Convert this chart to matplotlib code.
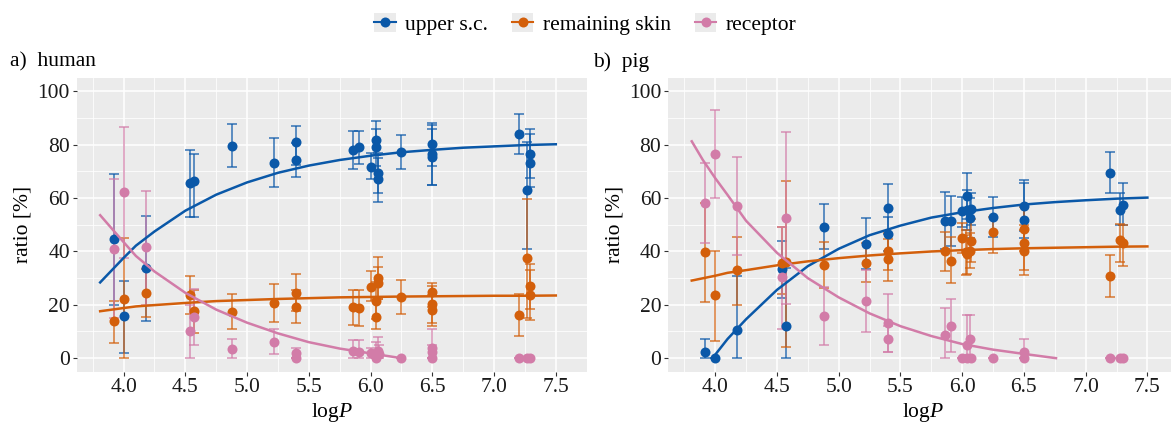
"""
plot.py - ratio vs logP for human and pig skin (upper s.c. / remaining skin / receptor)
"""

import numpy as np
import matplotlib
matplotlib.use("Agg")
import matplotlib.pyplot as plt
from matplotlib.lines import Line2D
from matplotlib.patches import Rectangle
from matplotlib import rcParams

rcParams['font.family'] = ['Liberation Serif', 'DejaVu Serif']
rcParams['mathtext.fontset'] = 'custom'
rcParams['mathtext.rm'] = 'Liberation Serif'
rcParams['mathtext.it'] = 'Liberation Serif:italic'

FS = 15.5
MS = 7.2
COLORS = {"upper": "#0A58A8", "remain": "#D35F0B", "recep": "#D27CA8"}
LABELS = ["upper s.c.", "remaining skin", "receptor"]

# ---- a) human: measured points (x, mean, lower, upper) ----
h_upper_x = [3.92, 4.00, 4.18, 4.54, 4.57, 4.88, 5.22, 5.40, 5.40, 5.86, 5.91, 6.00,
             6.04, 6.04, 6.06, 6.06, 6.25, 6.50, 6.50, 6.50, 7.20, 7.27, 7.29, 7.29]
h_upper_y = [44.5, 15.7, 33.8, 65.5, 66.3, 79.6, 73.3, 80.9, 74.3, 78.1, 79.0, 71.8,
             81.9, 79.0, 69.6, 67.1, 77.3, 80.2, 76.5, 75.5, 84.2, 63.0, 76.7, 73.3]
h_upper_lo = [20.0, 2.0, 14.0, 53.0, 53.0, 71.5, 64.0, 72.5, 68.0, 71.1, 72.7, 67.0,
              76.0, 72.0, 62.0, 58.6, 71.0, 72.0, 65.0, 64.8, 76.5, 40.8, 67.7, 64.0]
h_upper_hi = [69.0, 28.8, 53.4, 78.0, 76.4, 87.9, 82.7, 86.9, 80.5, 85.2, 85.2, 76.8,
              89.0, 86.0, 77.0, 75.0, 83.7, 88.0, 87.5, 86.0, 91.7, 81.0, 85.9, 84.0]

h_remain_x = [3.92, 4.00, 4.18, 4.54, 4.57, 4.88, 5.22, 5.40, 5.40, 5.86, 5.91, 6.00,
              6.04, 6.04, 6.06, 6.06, 6.25, 6.50, 6.50, 6.50, 7.20, 7.27, 7.29, 7.29]
h_remain_y = [14.0, 22.0, 24.5, 23.8, 17.5, 17.4, 20.8, 24.3, 19.3, 19.1, 18.9, 26.7,
              21.4, 15.5, 29.9, 28.3, 23.0, 24.9, 20.4, 18.0, 16.0, 37.4, 27.0, 23.7]
h_remain_lo = [5.8, 0.0, 15.5, 16.5, 9.3, 10.8, 13.5, 17.5, 13.3, 12.6, 12.0, 21.4,
               14.5, 10.8, 22.0, 22.0, 16.4, 19.0, 12.0, 13.0, 8.3, 15.0, 18.3, 14.3]
h_remain_hi = [21.5, 45.2, 33.5, 30.9, 25.7, 24.0, 27.8, 31.4, 25.5, 25.5, 25.5, 32.7,
               28.5, 22.0, 38.0, 34.0, 29.3, 28.3, 27.0, 23.5, 23.9, 59.6, 35.2, 33.0]

h_recep_x = [3.92, 4.00, 4.18, 4.54, 4.57, 4.88, 5.22, 5.40, 5.40, 5.86, 5.91, 6.00,
             6.04, 6.04, 6.06, 6.07, 6.25, 6.50, 6.50, 6.50, 7.20, 7.27, 7.29]
h_recep_y = [41.0, 62.2, 41.5, 10.0, 15.4, 3.3, 6.1, 1.8, 0.0, 2.6, 2.3, 1.8,
             1.0, 0.0, 2.6, 1.5, 0.0, 3.9, 2.3, 0.0, 0.0, 0.0, 0.0]
h_recep_lo = [15.0, 37.7, 20.0, 0.0, 4.9, 0.0, 1.4, 0.0, 0.0, 0.0, 0.0, 0.0,
              0.0, 0.0, 0.0, 0.0, 0.0, 0.0, 0.0, 0.0, 0.0, 0.0, 0.0]
h_recep_hi = [67.0, 86.7, 62.6, 20.0, 25.8, 7.3, 10.8, 4.0, 0.0, 7.0, 7.0, 4.0,
              6.0, 0.0, 8.0, 5.0, 0.0, 10.8, 5.0, 0.0, 0.0, 0.0, 0.0]

# ---- b) pig ----
p_upper_x = [3.92, 4.00, 4.18, 4.54, 4.57, 4.88, 5.22, 5.40, 5.40, 5.86, 5.91, 6.00,
             6.04, 6.04, 6.06, 6.07, 6.25, 6.50, 6.50, 7.20, 7.28, 7.30]
p_upper_y = [2.2, 0.0, 10.4, 33.5, 12.2, 49.3, 42.8, 56.2, 46.6, 51.6, 51.6, 55.1,
             60.7, 55.6, 52.4, 56.0, 52.8, 57.2, 51.8, 69.4, 55.7, 57.4]
p_upper_lo = [0.0, 0.0, 0.0, 22.5, 0.0, 41.0, 33.5, 46.6, 40.0, 41.0, 42.2, 49.0,
              52.0, 48.0, 45.0, 50.0, 45.6, 47.8, 45.0, 61.9, 50.0, 50.0]
p_upper_hi = [7.3, 0.0, 30.7, 44.1, 33.7, 57.8, 52.4, 65.3, 53.0, 62.4, 60.9, 60.6,
              69.3, 63.0, 60.0, 61.9, 60.6, 66.9, 65.5, 77.2, 62.0, 65.5]

p_remain_x = [3.92, 4.00, 4.18, 4.54, 4.57, 4.88, 5.22, 5.40, 5.40, 5.86, 5.91, 6.00,
              6.03, 6.04, 6.06, 6.07, 6.25, 6.50, 6.50, 6.50, 7.20, 7.28, 7.30]
p_remain_y = [39.7, 23.5, 33.1, 35.8, 36.0, 35.0, 35.7, 40.3, 37.0, 40.1, 36.6, 45.1,
              39.7, 39.1, 40.3, 44.1, 47.2, 48.5, 43.2, 40.3, 30.7, 44.4, 43.1]
p_remain_lo = [21.2, 6.6, 20.1, 24.0, 4.1, 26.2, 28.5, 33.0, 29.0, 32.8, 28.2, 39.5,
               31.0, 31.5, 33.8, 36.0, 39.5, 40.0, 31.3, 33.0, 23.1, 36.0, 34.7]
p_remain_hi = [58.2, 40.3, 45.6, 49.3, 66.3, 43.4, 43.0, 47.0, 44.7, 47.2, 45.3, 50.7,
               48.0, 46.0, 47.0, 52.0, 52.8, 56.6, 50.0, 48.0, 38.5, 50.3, 50.0]

p_recep_x = [3.92, 4.00, 4.18, 4.54, 4.57, 4.88, 5.22, 5.40, 5.40, 5.86, 5.91, 6.00,
             6.04, 6.04, 6.06, 6.07, 6.25, 6.50, 6.50, 7.20, 7.28, 7.30]
p_recep_y = [58.2, 76.5, 57.0, 30.3, 52.6, 15.7, 21.6, 13.2, 7.2, 8.5, 12.2, 0.0,
             0.0, 5.1, 7.2, 0.0, 0.0, 2.2, 0.0, 0.0, 0.0, 0.0]
p_recep_lo = [43.2, 59.9, 38.7, 11.0, 20.3, 5.1, 9.7, 2.2, 2.2, 0.0, 2.2, 0.0,
              0.0, 0.0, 0.0, 0.0, 0.0, 0.0, 0.0, 0.0, 0.0, 0.0]
p_recep_hi = [73.2, 93.1, 75.5, 49.0, 84.9, 26.6, 33.0, 24.1, 12.0, 18.9, 22.2, 0.0,
              0.0, 16.0, 16.0, 0.0, 0.0, 7.2, 0.0, 0.0, 0.0, 0.0]

# ---- fitted curves ----
fit_x = [3.81, 4.0, 4.1, 4.25, 4.5, 4.75, 5.0, 5.25, 5.5, 5.75, 6.0, 6.25, 6.5, 6.75, 7.0, 7.25, 7.5]
h_fit_upper = [28.4, 37.6, 42.2, 47.5, 55.3, 61.3, 65.9, 69.5, 72.2, 74.3, 75.9, 77.2, 78.1, 78.9, 79.4, 79.9, 80.2]
h_fit_remain = [17.6, 18.8, 19.4, 19.9, 20.7, 21.4, 21.8, 22.2, 22.5, 22.8, 22.95, 23.1, 23.2, 23.3, 23.4, 23.4, 23.5]
h_fit_recep_x = [3.81, 4.0, 4.1, 4.25, 4.5, 4.75, 5.0, 5.25, 5.5, 5.75, 6.0, 6.25]
h_fit_recep = [53.6, 43.5, 38.3, 32.5, 24.5, 18.2, 13.3, 9.3, 6.0, 3.6, 1.8, 0.0]

p_fit_upper_x = [3.98, 4.0, 4.1, 4.25, 4.5, 4.75, 5.0, 5.25, 5.5, 5.75, 6.0, 6.25, 6.5, 6.75, 7.0, 7.25, 7.5]
p_fit_upper = [0.0, 1.3, 7.2, 14.6, 25.6, 34.5, 41.0, 46.1, 49.7, 52.7, 54.7, 56.3, 57.6, 58.5, 59.2, 59.8, 60.2]
p_fit_remain = [29.1, 30.9, 32.0, 33.0, 34.8, 36.3, 37.5, 38.5, 39.3, 40.0, 40.5, 40.9, 41.2, 41.4, 41.6, 41.8, 41.9]
p_fit_recep_x = [3.81, 3.9, 4.0, 4.1, 4.25, 4.5, 4.75, 5.0, 5.25, 5.5, 5.75, 6.0, 6.25, 6.5, 6.76]
p_fit_recep = [81.3, 74.3, 67.5, 61.2, 51.5, 39.5, 30.0, 22.8, 16.8, 12.0, 8.3, 5.3, 3.2, 1.6, 0.0]

x_ticks = [4.0, 4.5, 5.0, 5.5, 6.0, 6.5, 7.0, 7.5]
y_ticks = [0, 20, 40, 60, 80, 100]


def draw_points(ax, x, y, lo, hi, color):
    """error bars + points for one series"""
    x = np.array(x)
    y = np.array(y)
    lo = np.array(lo)
    hi = np.array(hi)
    ax.errorbar(x, y, yerr=[y - lo, hi - y], fmt='none', ecolor=color,
                elinewidth=1.2, capsize=3.5, capthick=1.2, alpha=0.75, zorder=2)
    ax.plot(x, y, 'o', color=color, markersize=MS, markeredgewidth=0, zorder=3)


def style_axes(ax):
    ax.set_facecolor('#EBEBEB')
    for s in ax.spines.values():
        s.set_visible(False)
    ax.set_xlim(3.62, 7.69)
    ax.set_ylim(-5, 105)
    ax.set_xticks(x_ticks)
    ax.set_xticklabels([f"{v:.1f}" for v in x_ticks])
    ax.set_yticks(y_ticks)
    ax.set_xticks(list(np.array(x_ticks) - 0.25) + [7.75], minor=True)
    ax.set_yticks([10, 30, 50, 70, 90], minor=True)
    ax.grid(which='major', color='white', linewidth=1.1, zorder=0)
    ax.grid(which='minor', color='white', linewidth=0.55, zorder=0)
    ax.set_axisbelow(True)
    ax.tick_params(which='major', length=3, width=0.8, color='#333333',
                   labelsize=FS, labelcolor='#1a1a1a', pad=2)
    ax.tick_params(which='minor', length=0)
    ax.set_xlabel(r'log$\mathit{P}$', fontsize=FS)
    ax.xaxis.set_label_coords(0.5, -0.10)
    ax.set_ylabel('ratio [%]', fontsize=FS)
    ax.yaxis.set_label_coords(-0.086, 0.5)


fig = plt.figure(figsize=(11.71, 4.24), dpi=100)
ax1 = fig.add_axes([0.0655, 0.1238, 0.4355, 0.692])
ax2 = fig.add_axes([0.5707, 0.1238, 0.4355, 0.692])

for ax in (ax1, ax2):
    style_axes(ax)

# human
draw_points(ax1, h_upper_x, h_upper_y, h_upper_lo, h_upper_hi, COLORS["upper"])
draw_points(ax1, h_remain_x, h_remain_y, h_remain_lo, h_remain_hi, COLORS["remain"])
draw_points(ax1, h_recep_x, h_recep_y, h_recep_lo, h_recep_hi, COLORS["recep"])
ax1.plot(fit_x, h_fit_upper, color=COLORS["upper"], lw=1.8, zorder=4)
ax1.plot(fit_x, h_fit_remain, color=COLORS["remain"], lw=1.8, zorder=4)
ax1.plot(h_fit_recep_x, h_fit_recep, color=COLORS["recep"], lw=1.8, zorder=4)

# pig
draw_points(ax2, p_upper_x, p_upper_y, p_upper_lo, p_upper_hi, COLORS["upper"])
draw_points(ax2, p_remain_x, p_remain_y, p_remain_lo, p_remain_hi, COLORS["remain"])
draw_points(ax2, p_recep_x, p_recep_y, p_recep_lo, p_recep_hi, COLORS["recep"])
ax2.plot(p_fit_upper_x, p_fit_upper, color=COLORS["upper"], lw=1.8, zorder=4)
ax2.plot(fit_x, p_fit_remain, color=COLORS["remain"], lw=1.8, zorder=4)
ax2.plot(p_fit_recep_x, p_fit_recep, color=COLORS["recep"], lw=1.8, zorder=4)

fig.text(0.0085, 1 - 62 / 424, 'a)  human', fontsize=FS, va='center', ha='left')
fig.text(0.5064, 1 - 62 / 424, 'b)  pig', fontsize=FS, va='center', ha='left')

# legend with grey key boxes like ggplot
handles = []
for key in ("upper", "remain", "recep"):
    box = Rectangle((0, 0), 1, 1, facecolor='#EBEBEB', edgecolor='none')
    ln = Line2D([], [], color=COLORS[key], marker='o', markersize=MS, lw=1.5,
                markeredgewidth=0)
    handles.append((box, ln))
fig.legend(handles, LABELS, loc='center', bbox_to_anchor=(0.5, 1 - 24 / 424),
           ncol=3, frameon=False, fontsize=FS, handlelength=1.0, handleheight=1.0,
           handletextpad=0.45, columnspacing=1.1, borderaxespad=0)

fig.savefig('out.png', dpi=100)
